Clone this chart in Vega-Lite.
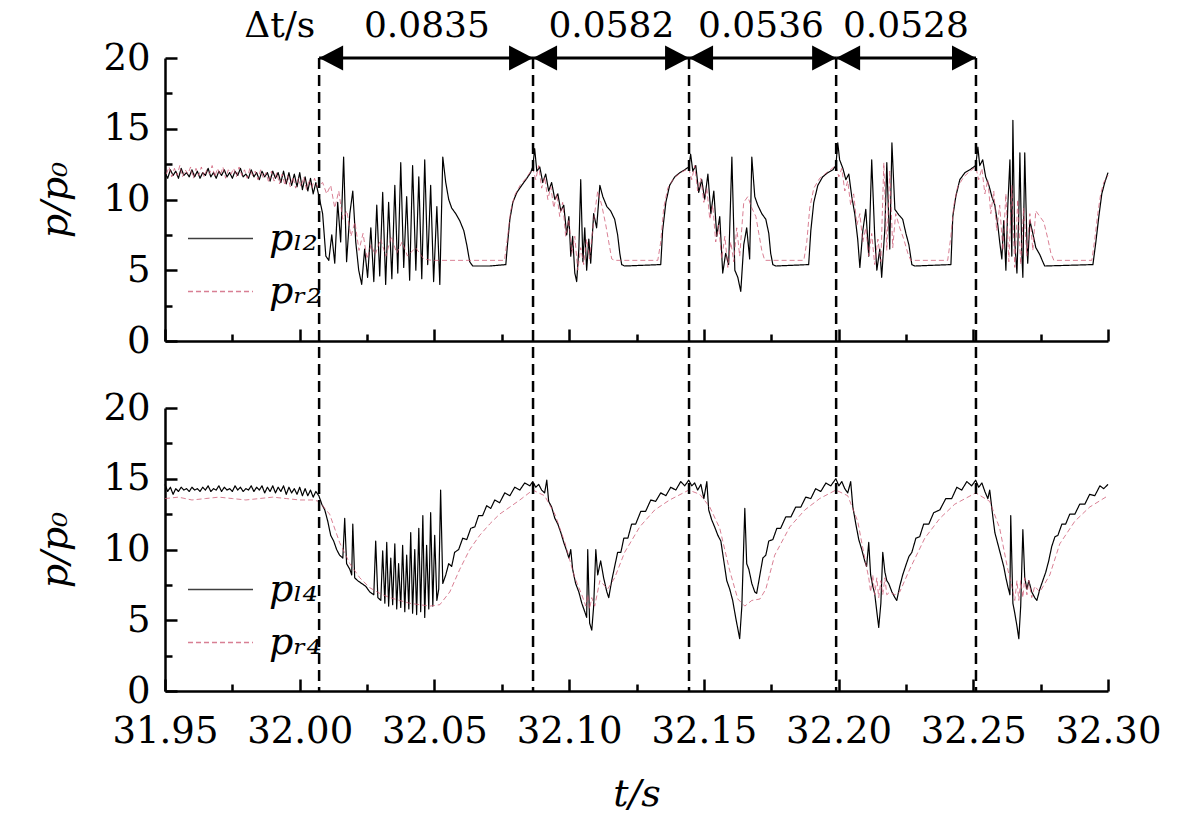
{
"$schema":"https://vega.github.io/schema/vega-lite/v6.json",
"width":943,"height":633,
"autosize":{"type":"none"},
"padding":{"left":165,"top":58,"right":73,"bottom":128},
"background":"white",
"config":{"font":"DejaVu Serif","view":{"stroke":null},
"axis":{"domainColor":"black","domainWidth":2.5,"tickColor":"black","tickWidth":2.5,"labelFont":"DejaVu Serif","labelFontSize":37,"labelColor":"black","titleFont":"DejaVu Serif","titleFontSize":38,"titleColor":"black","titleFontWeight":"normal","grid":false,"labelFlush":false,"labelOverlap":false,"labelBound":false},
"legend":{"orient":"none","title":null,"symbolType":"stroke","symbolSize":4225,"symbolStrokeWidth":1.5,"labelFont":"DejaVu Serif","labelFontSize":38,"labelFontStyle":"italic","labelColor":"black","labelOffset":15,"rowPadding":-15,"padding":0,"offset":0}},
"datasets":{
"tl":[{"t":31.95,"v":11.9},{"t":31.951,"v":11.5},{"t":31.952,"v":12.1},{"t":31.953,"v":11.7},{"t":31.954,"v":12.0},{"t":31.955,"v":11.5},{"t":31.956,"v":12.2},{"t":31.957,"v":11.7},{"t":31.958,"v":11.9},{"t":31.959,"v":11.6},{"t":31.96,"v":12.1},{"t":31.961,"v":11.6},{"t":31.962,"v":12.0},{"t":31.963,"v":11.5},{"t":31.964,"v":11.9},{"t":31.965,"v":11.7},{"t":31.966,"v":12.2},{"t":31.967,"v":11.6},{"t":31.968,"v":11.9},{"t":31.969,"v":11.5},{"t":31.97,"v":12.0},{"t":31.971,"v":11.7},{"t":31.972,"v":12.1},{"t":31.973,"v":11.6},{"t":31.974,"v":11.9},{"t":31.975,"v":11.5},{"t":31.976,"v":12.0},{"t":31.977,"v":11.7},{"t":31.978,"v":12.2},{"t":31.979,"v":11.6},{"t":31.98,"v":11.8},{"t":31.981,"v":11.5},{"t":31.982,"v":12.1},{"t":31.983,"v":11.6},{"t":31.984,"v":11.9},{"t":31.985,"v":11.4},{"t":31.986,"v":12.0},{"t":31.987,"v":11.6},{"t":31.988,"v":11.9},{"t":31.989,"v":11.3},{"t":31.99,"v":12.0},{"t":31.991,"v":11.5},{"t":31.992,"v":11.9},{"t":31.993,"v":11.2},{"t":31.994,"v":12.0},{"t":31.995,"v":11.1},{"t":31.996,"v":11.9},{"t":31.997,"v":11.0},{"t":31.998,"v":11.8},{"t":31.999,"v":10.9},{"t":32.0,"v":11.9},{"t":32.001,"v":10.7},{"t":32.002,"v":11.6},{"t":32.003,"v":10.6},{"t":32.004,"v":11.5},{"t":32.005,"v":10.4},{"t":32.006,"v":11.2},
{"t":32.0074,"v":10.0},{"t":32.0085,"v":9.0},{"t":32.0097,"v":6.0},{"t":32.0108,"v":5.7},{"t":32.0119,"v":7.5},{"t":32.013,"v":5.5},{"t":32.0141,"v":9.8},{"t":32.0152,"v":7.0},{"t":32.0163,"v":13.0},{"t":32.0174,"v":5.6},{"t":32.0186,"v":9.0},{"t":32.0197,"v":10.6},{"t":32.0208,"v":7.0},{"t":32.0219,"v":5.0},{"t":32.023,"v":4.0},{"t":32.0241,"v":6.5},{"t":32.0252,"v":4.5},{"t":32.0264,"v":8.0},{"t":32.0275,"v":4.2},{"t":32.0286,"v":9.6},{"t":32.0297,"v":4.6},{"t":32.0308,"v":10.5},{"t":32.0319,"v":4.0},{"t":32.033,"v":9.8},{"t":32.0342,"v":4.4},{"t":32.0353,"v":11.0},{"t":32.0364,"v":4.8},{"t":32.0375,"v":12.6},{"t":32.0386,"v":5.2},{"t":32.0397,"v":10.2},{"t":32.0408,"v":4.3},{"t":32.0419,"v":12.4},{"t":32.0431,"v":5.0},{"t":32.0442,"v":11.6},{"t":32.0453,"v":4.4},{"t":32.0464,"v":12.8},{"t":32.0475,"v":5.4},{"t":32.0486,"v":11.0},{"t":32.0497,"v":4.2},{"t":32.0509,"v":9.5},{"t":32.052,"v":4.0},{"t":32.0531,"v":13.0},{"t":32.0542,"v":11.2},{"t":32.0553,"v":10.0},{"t":32.0564,"v":9.4},{"t":32.0579,"v":9.0},{"t":32.0594,"v":8.5},{"t":32.0609,"v":7.8},{"t":32.062,"v":6.8},{"t":32.0631,"v":5.6},{"t":32.0642,"v":5.3},{"t":32.0705,"v":5.3},{"t":32.0765,"v":5.4},{"t":32.0772,"v":7.0},{"t":32.078,"v":8.6},{"t":32.0791,"v":9.8},{"t":32.0806,"v":10.5},{"t":32.0824,"v":11.0},{"t":32.0843,"v":11.5},{"t":32.0857,"v":11.9},{"t":32.0865,"v":12.3},
{"t":32.0872,"v":13.6},{"t":32.088,"v":12.0},{"t":32.0891,"v":12.3},{"t":32.0902,"v":11.2},{"t":32.0913,"v":11.8},{"t":32.0924,"v":10.6},{"t":32.0935,"v":11.2},{"t":32.0947,"v":10.0},{"t":32.0958,"v":10.4},{"t":32.0969,"v":9.2},{"t":32.098,"v":9.6},{"t":32.0991,"v":7.5},{"t":32.0999,"v":8.8},{"t":32.1006,"v":6.0},{"t":32.1013,"v":7.4},{"t":32.1021,"v":4.8},{"t":32.1028,"v":4.2},{"t":32.1036,"v":6.5},{"t":32.1043,"v":11.4},{"t":32.1051,"v":5.6},{"t":32.1058,"v":8.0},{"t":32.1065,"v":5.0},{"t":32.1073,"v":7.2},{"t":32.108,"v":5.5},{"t":32.1091,"v":9.0},{"t":32.1102,"v":8.0},{"t":32.1114,"v":11.0},{"t":32.1125,"v":10.2},{"t":32.114,"v":9.5},{"t":32.1154,"v":9.2},{"t":32.1169,"v":8.6},{"t":32.118,"v":7.5},{"t":32.1188,"v":6.2},{"t":32.1195,"v":5.4},{"t":32.1206,"v":5.3},{"t":32.134,"v":5.4},{"t":32.1347,"v":7.8},{"t":32.1359,"v":9.8},{"t":32.1373,"v":11.0},{"t":32.1392,"v":11.6},{"t":32.1411,"v":11.9},{"t":32.1429,"v":12.1},{"t":32.1444,"v":12.3},
{"t":32.1451,"v":13.2},{"t":32.1459,"v":12.0},{"t":32.147,"v":12.4},{"t":32.1481,"v":10.5},{"t":32.1492,"v":11.4},{"t":32.1503,"v":10.0},{"t":32.1515,"v":11.8},{"t":32.1526,"v":9.0},{"t":32.1537,"v":10.6},{"t":32.1548,"v":7.4},{"t":32.1559,"v":8.8},{"t":32.157,"v":4.8},{"t":32.1581,"v":6.2},{"t":32.1592,"v":5.4},{"t":32.1604,"v":13.0},{"t":32.1615,"v":5.0},{"t":32.1626,"v":4.5},{"t":32.1637,"v":3.5},{"t":32.1648,"v":6.8},{"t":32.1659,"v":8.0},{"t":32.167,"v":5.8},{"t":32.1678,"v":13.0},{"t":32.1689,"v":10.2},{"t":32.17,"v":9.6},{"t":32.1715,"v":9.0},{"t":32.173,"v":8.6},{"t":32.1741,"v":7.6},{"t":32.1748,"v":6.2},{"t":32.1756,"v":5.4},{"t":32.1767,"v":5.3},{"t":32.1889,"v":5.4},{"t":32.1897,"v":7.8},{"t":32.1908,"v":9.8},{"t":32.1923,"v":11.0},{"t":32.1941,"v":11.6},{"t":32.196,"v":11.9},{"t":32.1979,"v":12.1},{"t":32.199,"v":12.4},
{"t":32.1997,"v":14.0},{"t":32.2004,"v":12.8},{"t":32.2016,"v":12.2},{"t":32.2027,"v":11.4},{"t":32.2038,"v":11.8},{"t":32.2049,"v":10.2},{"t":32.206,"v":9.0},{"t":32.2071,"v":7.2},{"t":32.2079,"v":5.2},{"t":32.209,"v":7.8},{"t":32.2101,"v":9.3},{"t":32.2112,"v":6.0},{"t":32.2123,"v":12.8},{"t":32.2134,"v":7.5},{"t":32.2142,"v":5.0},{"t":32.2153,"v":6.5},{"t":32.216,"v":4.5},{"t":32.2172,"v":8.0},{"t":32.2179,"v":12.6},{"t":32.219,"v":6.5},{"t":32.2198,"v":14.0},{"t":32.2209,"v":9.3},{"t":32.2224,"v":8.9},{"t":32.2238,"v":8.6},{"t":32.225,"v":7.6},{"t":32.2261,"v":6.8},{"t":32.2272,"v":5.4},{"t":32.2283,"v":5.3},{"t":32.2417,"v":5.4},{"t":32.2424,"v":8.8},{"t":32.2435,"v":10.2},{"t":32.245,"v":11.4},{"t":32.2469,"v":11.9},{"t":32.2487,"v":12.1},{"t":32.2509,"v":12.4},
{"t":32.2517,"v":13.7},{"t":32.2524,"v":12.4},{"t":32.2535,"v":12.8},{"t":32.2546,"v":11.6},{"t":32.2558,"v":11.0},{"t":32.2569,"v":10.2},{"t":32.258,"v":9.6},{"t":32.2591,"v":8.2},{"t":32.2598,"v":7.0},{"t":32.2606,"v":5.8},{"t":32.2613,"v":8.5},{"t":32.2621,"v":5.0},{"t":32.2628,"v":9.5},{"t":32.2636,"v":12.8},{"t":32.2643,"v":6.0},{"t":32.2647,"v":15.6},{"t":32.2654,"v":7.0},{"t":32.2662,"v":4.8},{"t":32.2669,"v":9.0},{"t":32.2673,"v":13.3},{"t":32.268,"v":6.2},{"t":32.2684,"v":4.5},{"t":32.2691,"v":13.3},{"t":32.2699,"v":7.0},{"t":32.2702,"v":5.5},{"t":32.271,"v":8.5},{"t":32.2721,"v":7.6},{"t":32.2732,"v":6.6},{"t":32.2747,"v":6.1},{"t":32.2758,"v":5.6},{"t":32.2765,"v":5.3},{"t":32.2944,"v":5.4},{"t":32.2955,"v":7.0},{"t":32.2966,"v":8.8},{"t":32.2977,"v":10.4},{"t":32.2988,"v":11.2},{"t":32.3,"v":11.9}],
"tr":[{"t":31.9505,"v":11.8},{"t":31.9515,"v":12.3},{"t":31.9525,"v":11.6},{"t":31.9535,"v":12.2},{"t":31.9545,"v":11.7},{"t":31.9555,"v":12.4},{"t":31.9565,"v":11.6},{"t":31.9575,"v":12.1},{"t":31.9585,"v":11.8},{"t":31.9595,"v":12.3},{"t":31.9605,"v":11.5},{"t":31.9615,"v":12.2},{"t":31.9625,"v":11.7},{"t":31.9635,"v":12.3},{"t":31.9645,"v":11.6},{"t":31.9655,"v":12.1},{"t":31.9665,"v":11.8},{"t":31.9675,"v":12.4},{"t":31.9685,"v":11.6},{"t":31.9695,"v":12.2},{"t":31.9705,"v":11.7},{"t":31.9715,"v":12.3},{"t":31.9725,"v":11.5},{"t":31.9735,"v":12.1},{"t":31.9745,"v":11.8},{"t":31.9755,"v":12.2},{"t":31.9765,"v":11.6},{"t":31.9775,"v":12.3},{"t":31.9785,"v":11.7},{"t":31.9795,"v":12.1},{"t":31.9805,"v":11.5},{"t":31.9815,"v":12.2},{"t":31.9825,"v":11.7},{"t":31.9835,"v":12.0},{"t":31.9845,"v":11.4},{"t":31.9855,"v":12.1},{"t":31.9865,"v":11.5},{"t":31.9875,"v":11.9},{"t":31.9885,"v":11.2},{"t":31.9895,"v":12.0},{"t":31.9905,"v":11.3},{"t":31.9915,"v":11.9},{"t":31.9925,"v":11.1},{"t":31.9935,"v":11.8},{"t":31.9945,"v":11.0},{"t":31.9955,"v":11.7},{"t":31.9965,"v":10.9},{"t":31.9975,"v":11.6},{"t":31.9985,"v":10.8},{"t":31.9995,"v":11.5},{"t":32.0005,"v":10.9},{"t":32.0015,"v":11.6},{"t":32.0025,"v":10.7},{"t":32.0035,"v":11.4},{"t":32.0045,"v":10.8},{"t":32.0055,"v":11.5},{"t":32.0065,"v":10.9},
{"t":32.0085,"v":11.2},{"t":32.01,"v":10.4},{"t":32.0115,"v":11.0},{"t":32.013,"v":9.4},{"t":32.0145,"v":10.6},{"t":32.016,"v":8.6},{"t":32.0175,"v":9.2},{"t":32.019,"v":7.4},{"t":32.0205,"v":8.4},{"t":32.022,"v":6.4},{"t":32.0235,"v":7.6},{"t":32.025,"v":5.8},{"t":32.0265,"v":6.8},{"t":32.028,"v":6.1},{"t":32.03,"v":7.2},{"t":32.032,"v":6.0},{"t":32.034,"v":7.4},{"t":32.036,"v":6.2},{"t":32.038,"v":7.0},{"t":32.04,"v":6.0},{"t":32.043,"v":6.6},{"t":32.046,"v":5.8},{"t":32.049,"v":5.7},{"t":32.076,"v":5.7},{"t":32.0772,"v":7.4},{"t":32.0783,"v":9.2},{"t":32.0798,"v":10.3},{"t":32.0818,"v":11.0},{"t":32.084,"v":11.5},{"t":32.0865,"v":12.2},
{"t":32.0876,"v":11.4},{"t":32.0887,"v":12.4},{"t":32.0898,"v":10.8},{"t":32.0909,"v":11.6},{"t":32.0921,"v":10.0},{"t":32.0932,"v":10.9},{"t":32.0943,"v":9.4},{"t":32.0954,"v":10.4},{"t":32.0965,"v":8.8},{"t":32.0976,"v":9.8},{"t":32.0987,"v":7.4},{"t":32.0999,"v":8.6},{"t":32.101,"v":6.2},{"t":32.1021,"v":7.4},{"t":32.1032,"v":5.0},{"t":32.1043,"v":6.6},{"t":32.1054,"v":5.4},{"t":32.1065,"v":7.2},{"t":32.1076,"v":5.8},{"t":32.1091,"v":8.5},{"t":32.1106,"v":10.6},{"t":32.1121,"v":9.6},{"t":32.1136,"v":8.2},{"t":32.1147,"v":7.0},{"t":32.1158,"v":5.8},{"t":32.1169,"v":5.7},{"t":32.1329,"v":5.7},{"t":32.134,"v":7.0},{"t":32.1351,"v":9.4},{"t":32.1366,"v":10.8},{"t":32.1388,"v":11.5},{"t":32.1414,"v":11.9},{"t":32.1444,"v":12.2},
{"t":32.1455,"v":11.4},{"t":32.1466,"v":12.4},{"t":32.1477,"v":10.6},{"t":32.1489,"v":11.5},{"t":32.15,"v":9.8},{"t":32.1511,"v":10.8},{"t":32.1522,"v":8.6},{"t":32.1533,"v":9.6},{"t":32.1544,"v":7.0},{"t":32.1555,"v":8.2},{"t":32.1566,"v":5.8},{"t":32.1578,"v":7.4},{"t":32.1589,"v":5.2},{"t":32.16,"v":7.0},{"t":32.1611,"v":5.6},{"t":32.1622,"v":8.0},{"t":32.1633,"v":6.0},{"t":32.1648,"v":9.8},{"t":32.1663,"v":10.2},{"t":32.1678,"v":9.4},{"t":32.1693,"v":8.8},{"t":32.1704,"v":7.6},{"t":32.1715,"v":6.4},{"t":32.1726,"v":5.7},{"t":32.1871,"v":5.7},{"t":32.1882,"v":7.0},{"t":32.1893,"v":9.4},{"t":32.1908,"v":10.8},{"t":32.193,"v":11.5},{"t":32.1956,"v":11.9},{"t":32.199,"v":12.4},
{"t":32.2001,"v":11.6},{"t":32.2012,"v":12.2},{"t":32.2023,"v":10.6},{"t":32.2034,"v":11.3},{"t":32.2045,"v":9.6},{"t":32.2056,"v":10.4},{"t":32.2068,"v":8.2},{"t":32.2079,"v":9.0},{"t":32.209,"v":7.0},{"t":32.2101,"v":8.0},{"t":32.2112,"v":6.0},{"t":32.2123,"v":7.6},{"t":32.2134,"v":5.4},{"t":32.2146,"v":7.2},{"t":32.2157,"v":5.6},{"t":32.2168,"v":12.6},{"t":32.2179,"v":6.4},{"t":32.219,"v":12.0},{"t":32.2201,"v":6.6},{"t":32.2212,"v":9.0},{"t":32.2227,"v":8.0},{"t":32.2242,"v":7.2},{"t":32.2257,"v":6.2},{"t":32.2268,"v":5.7},{"t":32.2405,"v":5.7},{"t":32.2417,"v":7.4},{"t":32.2428,"v":9.6},{"t":32.2442,"v":10.9},{"t":32.2465,"v":11.6},{"t":32.2487,"v":12.0},{"t":32.2509,"v":12.3},
{"t":32.252,"v":11.4},{"t":32.2532,"v":12.2},{"t":32.2543,"v":10.4},{"t":32.2554,"v":11.4},{"t":32.2565,"v":9.0},{"t":32.2576,"v":10.6},{"t":32.2587,"v":7.8},{"t":32.2598,"v":9.6},{"t":32.261,"v":6.4},{"t":32.2621,"v":10.4},{"t":32.2632,"v":5.6},{"t":32.2643,"v":11.0},{"t":32.2654,"v":5.2},{"t":32.2665,"v":10.0},{"t":32.2676,"v":5.4},{"t":32.2687,"v":9.4},{"t":32.2699,"v":6.0},{"t":32.271,"v":9.0},{"t":32.2721,"v":6.4},{"t":32.2732,"v":9.2},{"t":32.2747,"v":8.8},{"t":32.2762,"v":8.4},{"t":32.2777,"v":7.2},{"t":32.2788,"v":6.2},{"t":32.2799,"v":5.7},{"t":32.294,"v":5.7},{"t":32.2951,"v":7.2},{"t":32.2962,"v":9.0},{"t":32.2973,"v":10.4},{"t":32.2984,"v":11.2},{"t":32.3,"v":11.7}],
"bl":[{"t":31.95,"v":14.6},{"t":31.951,"v":14.1},{"t":31.952,"v":14.4},{"t":31.953,"v":13.9},{"t":31.954,"v":14.3},{"t":31.955,"v":14.1},{"t":31.956,"v":14.4},{"t":31.957,"v":14.2},{"t":31.958,"v":14.3},{"t":31.959,"v":14.1},{"t":31.96,"v":14.4},{"t":31.961,"v":14.2},{"t":31.962,"v":14.3},{"t":31.963,"v":14.1},{"t":31.964,"v":14.4},{"t":31.965,"v":14.2},{"t":31.966,"v":14.5},{"t":31.967,"v":14.1},{"t":31.968,"v":14.3},{"t":31.969,"v":14.2},{"t":31.97,"v":14.5},{"t":31.971,"v":14.1},{"t":31.972,"v":14.4},{"t":31.973,"v":14.2},{"t":31.974,"v":14.3},{"t":31.975,"v":14.1},{"t":31.976,"v":14.5},{"t":31.977,"v":14.2},{"t":31.978,"v":14.4},{"t":31.979,"v":14.1},{"t":31.98,"v":14.3},{"t":31.981,"v":14.2},{"t":31.982,"v":14.5},{"t":31.983,"v":14.1},{"t":31.984,"v":14.4},{"t":31.985,"v":14.2},{"t":31.986,"v":14.5},{"t":31.987,"v":14.0},{"t":31.988,"v":14.4},{"t":31.989,"v":14.1},{"t":31.99,"v":14.5},{"t":31.991,"v":14.0},{"t":31.992,"v":14.4},{"t":31.993,"v":14.1},{"t":31.994,"v":14.5},{"t":31.995,"v":13.9},{"t":31.996,"v":14.4},{"t":31.997,"v":14.0},{"t":31.998,"v":14.3},{"t":31.999,"v":13.9},{"t":32.0,"v":14.4},{"t":32.001,"v":13.8},{"t":32.002,"v":14.3},{"t":32.003,"v":13.8},{"t":32.004,"v":14.2},{"t":32.005,"v":13.7},{"t":32.006,"v":14.1},
{"t":32.0071,"v":13.8},{"t":32.0082,"v":13.2},{"t":32.0093,"v":12.8},{"t":32.0104,"v":12.0},{"t":32.0115,"v":11.0},{"t":32.0126,"v":10.6},{"t":32.0137,"v":10.0},{"t":32.0148,"v":9.6},{"t":32.016,"v":9.4},{"t":32.0167,"v":12.2},{"t":32.0174,"v":9.0},{"t":32.0186,"v":8.6},{"t":32.0193,"v":8.2},{"t":32.0197,"v":11.8},{"t":32.0204,"v":8.0},{"t":32.0215,"v":7.8},{"t":32.023,"v":7.6},{"t":32.0245,"v":7.4},{"t":32.026,"v":7.0},{"t":32.0275,"v":6.8},{"t":32.0282,"v":10.6},{"t":32.029,"v":6.6},{"t":32.0301,"v":6.4},{"t":32.0308,"v":9.9},{"t":32.0316,"v":6.2},{"t":32.0323,"v":10.5},{"t":32.033,"v":6.0},{"t":32.0338,"v":9.4},{"t":32.0345,"v":6.1},{"t":32.0353,"v":10.4},{"t":32.036,"v":5.8},{"t":32.0367,"v":9.0},{"t":32.0375,"v":5.9},{"t":32.0382,"v":10.3},{"t":32.039,"v":5.6},{"t":32.0397,"v":9.6},{"t":32.0405,"v":5.8},{"t":32.0412,"v":11.2},{"t":32.0419,"v":5.5},{"t":32.0427,"v":10.0},{"t":32.0434,"v":5.4},{"t":32.0442,"v":11.5},{"t":32.0449,"v":5.6},{"t":32.0457,"v":12.4},{"t":32.0464,"v":5.2},{"t":32.0471,"v":10.3},{"t":32.0479,"v":5.8},{"t":32.0486,"v":12.6},{"t":32.0494,"v":6.0},{"t":32.0501,"v":11.0},{"t":32.0509,"v":6.4},{"t":32.0516,"v":7.2},{"t":32.0523,"v":14.2},{"t":32.0531,"v":7.6},{"t":32.0542,"v":8.2},{"t":32.0553,"v":9.0},{"t":32.0564,"v":8.8},{"t":32.0575,"v":9.8},{"t":32.059,"v":10.0},{"t":32.0605,"v":10.8},{"t":32.062,"v":10.7},{"t":32.0635,"v":11.5},{"t":32.065,"v":11.6},{"t":32.0664,"v":12.4},{"t":32.0679,"v":12.4},{"t":32.0694,"v":13.1},{"t":32.0709,"v":12.9},{"t":32.0724,"v":13.5},{"t":32.0742,"v":13.3},{"t":32.0761,"v":14.0},{"t":32.078,"v":13.8},{"t":32.0798,"v":14.4},{"t":32.0817,"v":14.2},{"t":32.0835,"v":14.7},{"t":32.0854,"v":14.5},{"t":32.0865,"v":14.8},
{"t":32.0876,"v":14.4},{"t":32.0887,"v":14.6},{"t":32.0898,"v":14.2},{"t":32.0909,"v":14.0},{"t":32.0917,"v":14.9},{"t":32.0924,"v":13.4},{"t":32.0935,"v":13.0},{"t":32.0947,"v":12.2},{"t":32.0958,"v":11.8},{"t":32.0969,"v":11.2},{"t":32.098,"v":10.5},{"t":32.0991,"v":9.9},{"t":32.0999,"v":9.4},{"t":32.1006,"v":10.0},{"t":32.1013,"v":8.6},{"t":32.1024,"v":7.6},{"t":32.1036,"v":7.0},{"t":32.1047,"v":6.2},{"t":32.1058,"v":5.6},{"t":32.1065,"v":5.2},{"t":32.1069,"v":10.0},{"t":32.1076,"v":4.8},{"t":32.1084,"v":4.3},{"t":32.1091,"v":6.0},{"t":32.1099,"v":10.0},{"t":32.1106,"v":8.2},{"t":32.1117,"v":9.2},{"t":32.1128,"v":8.0},{"t":32.114,"v":7.0},{"t":32.1147,"v":6.6},{"t":32.1158,"v":7.8},{"t":32.1169,"v":8.8},{"t":32.118,"v":9.8},{"t":32.1192,"v":9.8},{"t":32.1203,"v":10.8},{"t":32.1218,"v":10.8},{"t":32.1232,"v":11.8},{"t":32.1247,"v":11.8},{"t":32.1266,"v":12.7},{"t":32.1284,"v":12.7},{"t":32.1303,"v":13.5},{"t":32.1321,"v":13.4},{"t":32.134,"v":14.0},{"t":32.1359,"v":13.8},{"t":32.1377,"v":14.4},{"t":32.1396,"v":14.2},{"t":32.1414,"v":14.8},{"t":32.1429,"v":14.5},{"t":32.1444,"v":14.9},
{"t":32.1455,"v":14.5},{"t":32.1466,"v":14.7},{"t":32.1477,"v":14.2},{"t":32.1489,"v":14.6},{"t":32.15,"v":13.6},{"t":32.1511,"v":14.8},{"t":32.1518,"v":12.8},{"t":32.1529,"v":12.1},{"t":32.154,"v":11.6},{"t":32.1552,"v":11.0},{"t":32.1563,"v":10.6},{"t":32.1574,"v":9.2},{"t":32.1585,"v":7.8},{"t":32.1596,"v":7.2},{"t":32.1607,"v":6.4},{"t":32.1618,"v":5.2},{"t":32.1626,"v":4.4},{"t":32.1633,"v":3.7},{"t":32.1641,"v":6.0},{"t":32.1652,"v":12.9},{"t":32.1659,"v":9.0},{"t":32.1667,"v":8.6},{"t":32.1678,"v":7.6},{"t":32.1689,"v":7.0},{"t":32.1696,"v":6.9},{"t":32.1708,"v":8.2},{"t":32.1719,"v":9.4},{"t":32.173,"v":9.6},{"t":32.1741,"v":10.6},{"t":32.1756,"v":10.7},{"t":32.1771,"v":11.5},{"t":32.1785,"v":11.5},{"t":32.1804,"v":12.3},{"t":32.1823,"v":12.3},{"t":32.1841,"v":13.0},{"t":32.186,"v":13.0},{"t":32.1878,"v":13.7},{"t":32.1897,"v":13.6},{"t":32.1915,"v":14.3},{"t":32.1934,"v":14.1},{"t":32.1953,"v":14.7},{"t":32.1971,"v":14.5},{"t":32.199,"v":15.0},
{"t":32.2001,"v":14.5},{"t":32.2012,"v":14.8},{"t":32.2023,"v":14.3},{"t":32.2034,"v":14.0},{"t":32.2045,"v":14.8},{"t":32.2053,"v":13.0},{"t":32.2064,"v":11.8},{"t":32.2075,"v":10.7},{"t":32.2086,"v":10.0},{"t":32.2097,"v":9.2},{"t":32.2104,"v":8.8},{"t":32.2112,"v":10.5},{"t":32.2119,"v":8.2},{"t":32.2127,"v":7.4},{"t":32.2134,"v":6.9},{"t":32.2142,"v":5.6},{"t":32.2149,"v":4.5},{"t":32.2157,"v":6.2},{"t":32.2164,"v":9.8},{"t":32.2172,"v":8.4},{"t":32.2179,"v":7.8},{"t":32.2186,"v":7.6},{"t":32.2198,"v":7.0},{"t":32.2209,"v":6.6},{"t":32.2216,"v":6.4},{"t":32.2227,"v":7.4},{"t":32.2238,"v":8.2},{"t":32.225,"v":8.9},{"t":32.2261,"v":9.5},{"t":32.2272,"v":9.8},{"t":32.2287,"v":10.8},{"t":32.2301,"v":10.9},{"t":32.2316,"v":11.8},{"t":32.2335,"v":11.8},{"t":32.2353,"v":12.6},{"t":32.2376,"v":12.8},{"t":32.2398,"v":13.6},{"t":32.242,"v":13.6},{"t":32.2439,"v":14.4},{"t":32.2457,"v":14.2},{"t":32.2476,"v":14.8},{"t":32.2494,"v":14.5},{"t":32.2509,"v":14.9},
{"t":32.252,"v":14.4},{"t":32.2532,"v":14.7},{"t":32.2543,"v":14.1},{"t":32.2554,"v":13.6},{"t":32.2561,"v":14.2},{"t":32.2572,"v":12.4},{"t":32.258,"v":11.2},{"t":32.2591,"v":10.4},{"t":32.2602,"v":9.6},{"t":32.2613,"v":8.8},{"t":32.2621,"v":8.0},{"t":32.2628,"v":7.4},{"t":32.2636,"v":6.8},{"t":32.2639,"v":12.4},{"t":32.2647,"v":6.2},{"t":32.2654,"v":5.5},{"t":32.2662,"v":4.6},{"t":32.2669,"v":3.7},{"t":32.2676,"v":6.0},{"t":32.2684,"v":11.4},{"t":32.2691,"v":8.0},{"t":32.2699,"v":7.2},{"t":32.2706,"v":7.8},{"t":32.2717,"v":7.0},{"t":32.2728,"v":6.6},{"t":32.2736,"v":6.4},{"t":32.2747,"v":7.2},{"t":32.2758,"v":7.8},{"t":32.2769,"v":8.4},{"t":32.278,"v":9.2},{"t":32.2791,"v":10.2},{"t":32.2803,"v":10.9},{"t":32.2814,"v":11.0},{"t":32.2829,"v":11.8},{"t":32.2843,"v":11.8},{"t":32.2858,"v":12.5},{"t":32.2877,"v":12.5},{"t":32.2895,"v":13.2},{"t":32.2914,"v":13.2},{"t":32.2932,"v":13.9},{"t":32.2951,"v":13.8},{"t":32.297,"v":14.5},{"t":32.2984,"v":14.3},{"t":32.3,"v":14.6}],
"br":[{"t":31.95,"v":13.6},{"t":31.955,"v":13.7},{"t":31.96,"v":13.5},{"t":31.965,"v":13.6},{"t":31.97,"v":13.7},{"t":31.975,"v":13.6},{"t":31.98,"v":13.5},{"t":31.985,"v":13.6},{"t":31.99,"v":13.7},{"t":31.995,"v":13.6},{"t":32.0,"v":13.5},{"t":32.005,"v":13.5},{"t":32.0071,"v":13.4},{"t":32.0111,"v":12.5},{"t":32.0148,"v":10.5},{"t":32.0186,"v":9.0},{"t":32.0223,"v":8.0},{"t":32.026,"v":7.3},{"t":32.0297,"v":6.9},{"t":32.0334,"v":6.6},{"t":32.0371,"v":6.4},{"t":32.0408,"v":6.2},{"t":32.0445,"v":6.1},{"t":32.0483,"v":6.0},{"t":32.052,"v":6.1},{"t":32.0557,"v":7.0},{"t":32.0594,"v":8.6},{"t":32.0631,"v":10.0},{"t":32.0668,"v":11.0},{"t":32.0705,"v":11.8},{"t":32.0742,"v":12.5},{"t":32.078,"v":13.0},{"t":32.0817,"v":13.5},{"t":32.0865,"v":14.2},
{"t":32.0909,"v":13.8},{"t":32.0947,"v":12.5},{"t":32.0984,"v":10.5},{"t":32.1021,"v":8.0},{"t":32.1047,"v":6.8},{"t":32.1062,"v":6.0},{"t":32.1069,"v":6.8},{"t":32.1076,"v":5.8},{"t":32.1084,"v":6.6},{"t":32.1095,"v":6.0},{"t":32.1114,"v":7.8},{"t":32.1143,"v":7.2},{"t":32.1169,"v":8.0},{"t":32.1206,"v":9.8},{"t":32.1262,"v":11.6},{"t":32.1318,"v":12.8},{"t":32.1373,"v":13.5},{"t":32.1444,"v":14.2},
{"t":32.1485,"v":13.9},{"t":32.1522,"v":13.0},{"t":32.1559,"v":11.5},{"t":32.1596,"v":8.5},{"t":32.1626,"v":6.5},{"t":32.1652,"v":6.0},{"t":32.1678,"v":6.4},{"t":32.1708,"v":6.5},{"t":32.173,"v":7.2},{"t":32.1763,"v":9.6},{"t":32.1819,"v":11.6},{"t":32.1875,"v":12.8},{"t":32.193,"v":13.6},{"t":32.199,"v":14.2},
{"t":32.2034,"v":13.8},{"t":32.2071,"v":12.0},{"t":32.2101,"v":9.0},{"t":32.2112,"v":8.0},{"t":32.2119,"v":7.0},{"t":32.2127,"v":8.2},{"t":32.2134,"v":6.8},{"t":32.2142,"v":8.0},{"t":32.2149,"v":6.6},{"t":32.2157,"v":7.8},{"t":32.2164,"v":6.8},{"t":32.2172,"v":8.0},{"t":32.2179,"v":6.8},{"t":32.219,"v":7.0},{"t":32.2209,"v":6.8},{"t":32.2227,"v":7.0},{"t":32.2264,"v":8.6},{"t":32.232,"v":10.8},{"t":32.2376,"v":12.2},{"t":32.2431,"v":13.2},{"t":32.2509,"v":14.0},
{"t":32.2561,"v":13.4},{"t":32.2598,"v":11.5},{"t":32.2628,"v":8.6},{"t":32.2643,"v":7.4},{"t":32.2654,"v":6.4},{"t":32.2662,"v":7.8},{"t":32.2669,"v":6.4},{"t":32.2676,"v":7.8},{"t":32.2684,"v":6.6},{"t":32.2691,"v":8.0},{"t":32.2699,"v":6.8},{"t":32.2706,"v":7.8},{"t":32.2717,"v":6.6},{"t":32.2728,"v":7.4},{"t":32.2747,"v":7.0},{"t":32.2784,"v":8.2},{"t":32.2821,"v":10.4},{"t":32.2877,"v":12.0},{"t":32.2932,"v":13.0},{"t":32.3,"v":13.8}],
"vl":[{"t":32.0072},{"t":32.0866},{"t":32.1445},{"t":32.1991},{"t":32.251}],
"segs":[{"a":32.0072,"b":32.0866,"m":32.0472,"label":"0.0835"},{"a":32.0866,"b":32.1445,"m":32.1157,"label":"0.0582"},{"a":32.1445,"b":32.1991,"m":32.1712,"label":"0.0536"},{"a":32.1991,"b":32.251,"m":32.225,"label":"0.0528"}]
},
"layer":[
{
"layer":[
{"data":{"name":"tl"},"mark":{"type":"line","strokeWidth":1.2,"strokeJoin":"round"},
"encoding":{
"x":{"field":"t","type":"quantitative","scale":{"domain":[31.95,32.3],"nice":false,"zero":false},
"axis":{"orient":"bottom","offset":-350,"values":[31.95,31.975,32,32.025,32.05,32.075,32.1,32.125,32.15,32.175,32.2,32.225,32.25,32.275,32.3],"tickSize":{"condition":{"test":"abs(datum.value*20-round(datum.value*20))<0.01","value":-12},"value":-7},"labels":false,"title":null}},
"y":{"field":"v","type":"quantitative","scale":{"domain":[0,20],"range":[283,0],"nice":false,"zero":false},
"axis":{"orient":"left","values":[0,2.5,5,7.5,10,12.5,15,17.5,20],"tickSize":{"condition":{"test":"datum.value % 5 === 0","value":-12},"value":-7},"labelExpr":"datum.value % 5 === 0 ? datum.label : ''","labelPadding":27,"title":"p/p₀","titleFontStyle":"italic","titleX":-99,"titleBaseline":"alphabetic"}},
"color":{"datum":"pₗ₂","type":"nominal","scale":{"domain":["pₗ₂","pᵣ₂"],"range":["black","#cc5570"]},"legend":{"legendX":22,"legendY":147}},
"strokeDash":{"datum":"pₗ₂","type":"nominal","scale":{"domain":["pₗ₂","pᵣ₂"],"range":[[1,0],[5,3]]},"legend":{"legendX":22,"legendY":147}}}},
{"data":{"name":"tr"},"mark":{"type":"line","strokeWidth":1,"opacity":0.75},
"encoding":{"x":{"field":"t","type":"quantitative"},"y":{"field":"v","type":"quantitative"},"color":{"datum":"pᵣ₂","type":"nominal"},"strokeDash":{"datum":"pᵣ₂","type":"nominal"}}},
{"data":{"name":"segs"},"mark":{"type":"rule","strokeWidth":3,"color":"black"},
"encoding":{"x":{"field":"a","type":"quantitative"},"x2":{"field":"b"},"y":{"datum":20,"type":"quantitative"}}},
{"data":{"name":"segs"},"mark":{"type":"point","shape":"M0,0L2,-1.05L2,1.05Z","size":576,"filled":true,"color":"black","opacity":1,"strokeWidth":0},
"encoding":{"x":{"field":"a","type":"quantitative"},"y":{"datum":20,"type":"quantitative"}}},
{"data":{"name":"segs"},"mark":{"type":"point","shape":"M0,0L-2,-1.05L-2,1.05Z","size":576,"filled":true,"color":"black","opacity":1,"strokeWidth":0},
"encoding":{"x":{"field":"b","type":"quantitative"},"y":{"datum":20,"type":"quantitative"}}},
{"data":{"name":"segs"},"mark":{"type":"text","fontSize":36,"font":"DejaVu Serif","baseline":"alphabetic","align":"center","dy":-21,"color":"black"},
"encoding":{"x":{"field":"m","type":"quantitative"},"y":{"datum":20,"type":"quantitative"},"text":{"field":"label"}}},
{"data":{"values":[{"label":"Δt/s"}]},"mark":{"type":"text","fontSize":36,"font":"DejaVu Serif","baseline":"alphabetic","align":"center","dy":-21,"color":"black"},
"encoding":{"x":{"datum":31.9926,"type":"quantitative"},"y":{"datum":20,"type":"quantitative"},"text":{"field":"label"}}}
]
},
{
"layer":[
{"data":{"name":"bl"},"mark":{"type":"line","strokeWidth":1.2,"strokeJoin":"round"},
"encoding":{
"x":{"field":"t","type":"quantitative","scale":{"domain":[31.95,32.3],"nice":false,"zero":false},
"axis":{"orient":"bottom","values":[31.95,31.975,32,32.025,32.05,32.075,32.1,32.125,32.15,32.175,32.2,32.225,32.25,32.275,32.3],"tickSize":{"condition":{"test":"abs(datum.value*20-round(datum.value*20))<0.01","value":-12},"value":-7},"labelExpr":"abs(datum.value*20-round(datum.value*20))<0.01 ? format(datum.value,'.2f') : ''","labelPadding":34,"title":"t/s","titleFontStyle":"italic","titleY":114,"titleBaseline":"alphabetic"}},
"y":{"field":"v","type":"quantitative","scale":{"domain":[0,20],"range":[633,350],"nice":false,"zero":false},
"axis":{"orient":"left","values":[0,2.5,5,7.5,10,12.5,15,17.5,20],"tickSize":{"condition":{"test":"datum.value % 5 === 0","value":-12},"value":-7},"labelExpr":"datum.value % 5 === 0 ? datum.label : ''","labelPadding":27,"title":"p/p₀","titleFontStyle":"italic","titleX":-99,"titleBaseline":"alphabetic"}},
"color":{"datum":"pₗ₄","type":"nominal","scale":{"domain":["pₗ₄","pᵣ₄"],"range":["black","#cc5570"]},"legend":{"legendX":22,"legendY":498}},
"strokeDash":{"datum":"pₗ₄","type":"nominal","scale":{"domain":["pₗ₄","pᵣ₄"],"range":[[1,0],[5,3]]},"legend":{"legendX":22,"legendY":498}}}},
{"data":{"name":"br"},"mark":{"type":"line","strokeWidth":1,"opacity":0.75},
"encoding":{"x":{"field":"t","type":"quantitative"},"y":{"field":"v","type":"quantitative"},"color":{"datum":"pᵣ₄","type":"nominal"},"strokeDash":{"datum":"pᵣ₄","type":"nominal"}}},
{"data":{"name":"vl"},"mark":{"type":"rule","strokeDash":[11,6],"strokeWidth":2.5,"color":"black"},
"encoding":{"x":{"field":"t","type":"quantitative"}}}
]
}
],
"resolve":{"scale":{"x":"independent","y":"independent","color":"independent","strokeDash":"independent"}}
}
